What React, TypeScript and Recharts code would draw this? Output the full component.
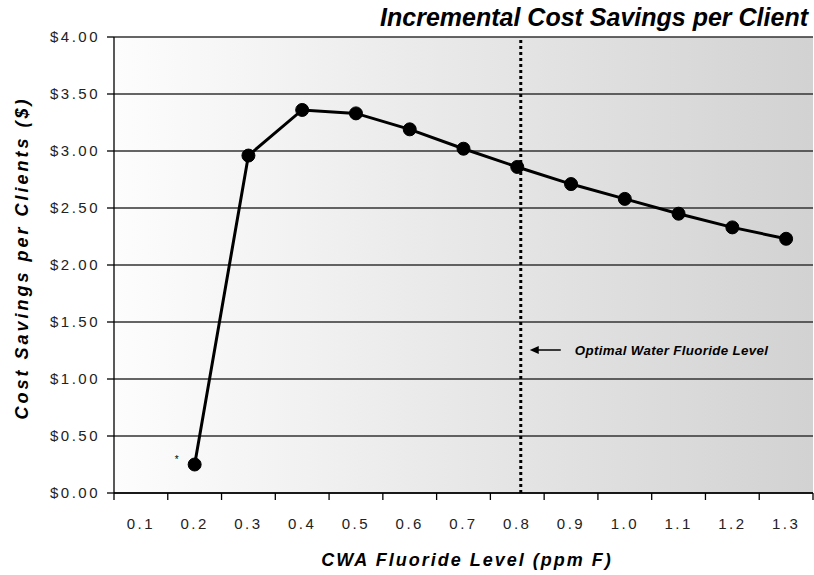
import React from 'react';
import { LineChart, Line, XAxis, YAxis, CartesianGrid, ReferenceLine } from 'recharts';

const levels = ['0.1', '0.2', '0.3', '0.4', '0.5', '0.6', '0.7', '0.8', '0.9', '1.0', '1.1', '1.2', '1.3'];
const savings = [null, 0.25, 2.96, 3.36, 3.33, 3.19, 3.02, 2.86, 2.71, 2.58, 2.45, 2.33, 2.23];
const yTicks = [0, 0.5, 1, 1.5, 2, 2.5, 3, 3.5, 4];
const optimalLevel = '0.8';

const data = levels.map((level, i) => ({ level, savings: savings[i] }));

const FONT = '"Liberation Sans", Arial, sans-serif';

// label in the middle of the band, tick mark on the band boundaries
const BandTick = (props: any) => {
    const { x, y, payload, width, visibleTicksCount, index } = props;
    const bw = width / visibleTicksCount;
    const axisY = y - 25;
    return (
        <g>
            <line x1={x - bw / 2} y1={axisY} x2={x - bw / 2} y2={axisY + 7} stroke="#000" strokeWidth={1.3} />
            {index === visibleTicksCount - 1 && (
                <line x1={x + bw / 2} y1={axisY} x2={x + bw / 2} y2={axisY + 7} stroke="#000" strokeWidth={1.3} />
            )}
            <text x={x} y={y} dy="0.71em" textAnchor="middle" fontSize={15} fill="#222" style={{ letterSpacing: '2.5px' }}>
                {payload.value}
            </text>
        </g>
    );
};

const DottedLine = (props: any) => {
    const { x1, y1, x2, y2 } = props;
    return <line x1={x1 + 3.5} y1={y1} x2={x2 + 3.5} y2={y2} stroke="#000" strokeWidth={3} strokeDasharray="3 3" />;
};

const OptimalLabel = (props: any) => {
    const { viewBox } = props;
    const x = viewBox.x + 3.5;
    const y = viewBox.y + 313;
    return (
        <g>
            <line x1={x + 40} y1={y} x2={x + 16} y2={y} stroke="#000" strokeWidth={1.5} />
            <polygon points={`${x + 9},${y} ${x + 18},${y - 4} ${x + 18},${y + 4}`} fill="#000" />
            <text x={x + 54} y={y} dy="0.35em" fontSize={13.3} fontWeight="bold" fontStyle="italic" fill="#000"
                style={{ letterSpacing: '0.35px' }}>
                Optimal Water Fluoride Level
            </text>
        </g>
    );
};

const Asterisk = (props: any) => {
    const { x, y, index } = props;
    if (index !== 1) return null;
    return <text x={x - 18} y={y - 2} fontSize={10} textAnchor="middle" fill="#000">*</text>;
};

export default function App() {
    return (
        <div style={{ position: 'absolute', left: 0, top: 0, width: 814, height: 575, fontFamily: FONT, background: '#fff' }}>
            <LineChart width={814} height={575} data={data} margin={{ top: 37, right: 1, left: 0, bottom: 81 }}>
                <defs>
                    <linearGradient id="bg" x1="0" y1="0" x2="1" y2="0">
                        <stop offset="0%" stopColor="#fdfdfd" />
                        <stop offset="100%" stopColor="#d2d2d2" />
                    </linearGradient>
                </defs>
                <CartesianGrid vertical={false} stroke="#333" strokeWidth={1.3} fill="url(#bg)" fillOpacity={1} />
                <XAxis dataKey="level" scale="band" interval={0} tickLine={false} tickSize={0} tickMargin={25} height={1}
                    axisLine={{ stroke: '#000', strokeWidth: 1.3 }} tick={<BandTick />} />
                <YAxis domain={[0, 4]} ticks={yTicks} interval={0} width={114} tickSize={7} tickMargin={7}
                    tickFormatter={(v: number) => `$${v.toFixed(2)}`}
                    axisLine={{ stroke: '#000', strokeWidth: 1.3 }} tickLine={{ stroke: '#000', strokeWidth: 1.3 }}
                    tick={{ fontSize: 15, fill: '#222', style: { letterSpacing: '2.5px' } }} />
                <ReferenceLine x={optimalLevel} stroke="#000" strokeWidth={3} shape={<DottedLine />} label={<OptimalLabel />} />
                <Line type="linear" dataKey="savings" stroke="#000" strokeWidth={3}
                    dot={{ r: 6.5, fill: '#000', stroke: '#000', strokeWidth: 1 }} activeDot={false}
                    isAnimationActive={false} label={<Asterisk />} />
            </LineChart>
            <svg width={814} height={575} style={{ position: 'absolute', left: 0, top: 0, pointerEvents: 'none' }}>
                <text x={808} y={26} textAnchor="end" fontSize={25} fontWeight="bold" fontStyle="italic" fill="#000">
                    Incremental Cost Savings per Client
                </text>
                <text x={467} y={566} textAnchor="middle" fontSize={18} fontWeight="bold" fontStyle="italic" fill="#000"
                    style={{ letterSpacing: '2px' }}>
                    CWA Fluoride Level (ppm F)
                </text>
                <text x={28} y={258} textAnchor="middle" fontSize={18} fontWeight="bold" fontStyle="italic" fill="#000"
                    transform="rotate(-90 28 258)" style={{ letterSpacing: '3px' }}>
                    Cost Savings per Clients ($)
                </text>
            </svg>
        </div>
    );
}
